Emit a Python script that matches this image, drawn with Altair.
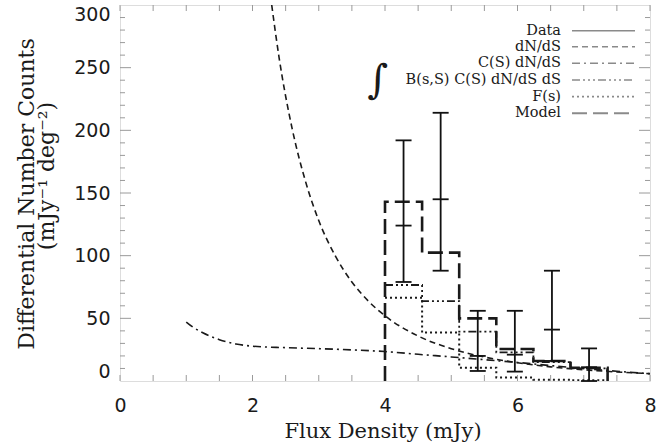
import altair as alt
import pandas as pd

# ---------------- data ----------------
bin_edges = [4.00, 4.56, 5.12, 5.68, 6.24, 6.80, 7.36]
bin_centers = [4.28, 4.84, 5.40, 5.96, 6.52, 7.08]

data_val = [124, 145, 20, 21, 41, 11]
data_hi = [192, 214, 56, 56, 88, 26]
data_lo = [79, 88, 8, 7.5, 16, 0]

model_val = [143, 102.4, 50, 25.5, 16, 10.6]
integral_val = [76.6, 63.8, 39.4, 22.8, 15.0, 10.0]
fs_val = [66.5, 38.6, 10.6, 2.7, 1.0, 0.5]

dnds_s = [2.29, 2.4, 2.6, 2.8, 3.0, 3.25, 3.5, 3.75, 4.0, 4.5, 5.0, 5.5, 6.0, 6.5, 7.0, 7.5, 8.0]
dnds_v = [300, 258.5, 201, 159.3, 128, 99.8, 79, 63.7, 52, 35.9, 25.8, 19.1, 14.6, 11.3, 9.0, 7.2, 5.9]

cdnds_s = [1.0, 1.1, 1.25, 1.5, 1.75, 2.0, 2.5, 3.0, 3.5, 4.0, 4.5, 5.0, 5.5, 6.0, 6.5, 7.0, 7.5, 8.0]
cdnds_v = [47, 43, 38.5, 33, 29.5, 27.8, 26.6, 25.8, 24.8, 23.5, 21.3, 19.2, 17, 14.8, 12.3, 10, 7.8, 5.8]

x_labels = [0, 2, 4, 6, 8]
y_labels = [0, 50, 100, 150, 200, 250, 300]
x_ticks = [0, 0.5, 1, 1.5, 2, 2.5, 3, 3.5, 4, 4.5, 5, 5.5, 6, 6.5, 7, 7.5, 8]
y_minor = [10, 20, 30, 40, 60, 70, 80, 90, 110, 120, 130, 140, 160, 170, 180, 190,
           210, 220, 230, 240, 260, 270, 280, 290]
y_major = [50, 100, 150, 200, 250]

legend_labels = ["Data", "dN/dS", "C(S) dN/dS", "B(s,S) C(S) dN/dS dS", "F(s)", "Model"]

# ---------------- styling ----------------
W, H = 530, 376
INK = "#1a1a1a"
FRAME = "#9a9a9a"
SERIF = "DejaVu Serif"

dash_dnds = [6, 4]
dash_cdnds = [8, 4, 2, 4]
dash_int = [8, 3, 2, 3, 2, 3, 2, 3]
dash_fs = [2, 3]
dash_model = [15, 6]

xscale = alt.Scale(domain=[0, 8], nice=False, zero=False)
yscale = alt.Scale(domain=[0, 300], nice=False, zero=False)
xaxis = alt.Axis(values=x_labels, ticks=False, domain=False, grid=False, title=None,
                 labelFont="DejaVu Sans", labelFontSize=19, labelColor=INK,
                 labelPadding=15, labelFlush=False, format="d")
yaxis = alt.Axis(values=y_labels, ticks=False, domain=False, grid=False, title=None,
                 labelFont="DejaVu Sans", labelFontSize=19, labelColor=INK,
                 labelPadding=10, labelFlush=True, labelFlushOffset=0, format="d")


def X(f):
    return alt.X(f"{f}:Q", scale=xscale, axis=xaxis)


def Y(f):
    return alt.Y(f"{f}:Q", scale=yscale, axis=yaxis)


def steps(vals, drop):
    xs, ys = [], []
    if drop:
        xs.append(bin_edges[0]); ys.append(0)
    for i, v in enumerate(vals):
        xs.append(bin_edges[i]); ys.append(v)
    xs.append(bin_edges[-1]); ys.append(vals[-1])
    if drop:
        xs.append(bin_edges[-1]); ys.append(0)
    return pd.DataFrame({"S": xs, "v": ys, "i": list(range(len(xs)))})


layers = []

# frame ticks (inward)
xt = pd.DataFrame({"t": x_ticks})
ymi = pd.DataFrame({"t": y_minor})
yma = pd.DataFrame({"t": y_major})
tick_style = dict(color=FRAME, strokeWidth=1)
layers.append(alt.Chart(xt).mark_rule(**tick_style).encode(x=X("t"), y=alt.value(H), y2=alt.value(H - 6)))
layers.append(alt.Chart(xt).mark_rule(**tick_style).encode(x=X("t"), y=alt.value(0), y2=alt.value(6)))
for df, ln in ((ymi, 5), (yma, 11)):
    layers.append(alt.Chart(df).mark_rule(**tick_style).encode(y=Y("t"), x=alt.value(0), x2=alt.value(ln)))
    layers.append(alt.Chart(df).mark_rule(**tick_style).encode(y=Y("t"), x=alt.value(W), x2=alt.value(W - ln)))

# curves
dnds = pd.DataFrame({"S": dnds_s, "v": dnds_v})
cdnds = pd.DataFrame({"S": cdnds_s, "v": cdnds_v})
layers.append(alt.Chart(dnds).mark_line(color=INK, strokeWidth=1.6, strokeDash=dash_dnds,
                                        interpolate="monotone", clip=True)
              .encode(x=X("S"), y=Y("v")))
layers.append(alt.Chart(cdnds).mark_line(color=INK, strokeWidth=1.6, strokeDash=dash_cdnds,
                                         interpolate="monotone", clip=True)
              .encode(x=X("S"), y=Y("v")))

# histograms
for vals, dash, sw, drop in ((fs_val, dash_fs, 2.0, False),
                             (integral_val, dash_int, 1.8, False),
                             (model_val, dash_model, 2.6, True)):
    layers.append(alt.Chart(steps(vals, drop)).mark_line(color=INK, strokeWidth=sw, strokeDash=dash,
                                                        interpolate="step-after", clip=True)
                  .encode(x=X("S"), y=Y("v"), order=alt.Order("i:Q")))

# data with error bars
dd = pd.DataFrame({"S": bin_centers, "v": data_val, "lo": data_lo, "hi": data_hi})
layers.append(alt.Chart(dd).mark_rule(color="#111111", strokeWidth=1.8)
              .encode(x=X("S"), y=Y("lo"), y2="hi:Q"))
caps = pd.DataFrame({"S": bin_centers * 3, "v": data_val + data_lo + data_hi})
layers.append(alt.Chart(caps).mark_tick(color="#111111", orient="horizontal", size=16, thickness=1.8,
                                        opacity=1)
              .encode(x=X("S"), y=Y("v")))

# legend
row_y = [25.7, 41.7, 58.3, 75.0, 91.7, 108.3]
row_dash = [None, dash_dnds, dash_cdnds, dash_int, dash_fs, dash_model]
row_w = [1.5, 1.5, 1.5, 1.6, 1.8, 2.0]
for lab, yy, dash, sw in zip(legend_labels, row_y, row_dash, row_w):
    t = pd.DataFrame({"label": [lab]})
    layers.append(alt.Chart(t).mark_text(font=SERIF, fontSize=14.5, align="right", baseline="middle",
                                         color=INK)
                  .encode(text="label:N", x=alt.value(441), y=alt.value(yy)))
    kw = dict(color="#8a8a8a", strokeWidth=sw)
    if dash:
        kw["strokeDash"] = dash
    layers.append(alt.Chart(t).mark_rule(**kw)
                  .encode(x=alt.value(452), x2=alt.value(515), y=alt.value(yy)))
layers.append(alt.Chart(pd.DataFrame({"label": ["∫"]}))
              .mark_text(font=SERIF, fontSize=40, align="center", baseline="middle", color=INK)
              .encode(text="label:N", x=alt.value(258), y=alt.value(76)))

# axis titles
titles = pd.DataFrame({"label": ["Flux Density (mJy)"]})
layers.append(alt.Chart(titles).mark_text(font=SERIF, fontSize=21, align="center", baseline="middle",
                                          color=INK)
              .encode(text="label:N", x=alt.value(263), y=alt.value(427)))
layers.append(alt.Chart(pd.DataFrame({"label": ["Differential Number Counts"]}))
              .mark_text(font=SERIF, fontSize=22, align="center", baseline="middle", angle=270, color=INK)
              .encode(text="label:N", x=alt.value(-93), y=alt.value(189)))
layers.append(alt.Chart(pd.DataFrame({"label": ["(mJy⁻¹ deg⁻²)"]}))
              .mark_text(font=SERIF, fontSize=22, align="center", baseline="middle", angle=270, color=INK)
              .encode(text="label:N", x=alt.value(-73), y=alt.value(171)))

chart = (alt.layer(*layers)
         .properties(width=W, height=H,
                     padding={"left": 120, "top": 5, "right": 22, "bottom": 67},
                     autosize=alt.AutoSizeParams(type="none"))
         .configure_view(stroke=FRAME, strokeWidth=1.2)
         .configure(background="white"))

chart.save("out.html", embed_options={"renderer": "svg", "actions": False})
